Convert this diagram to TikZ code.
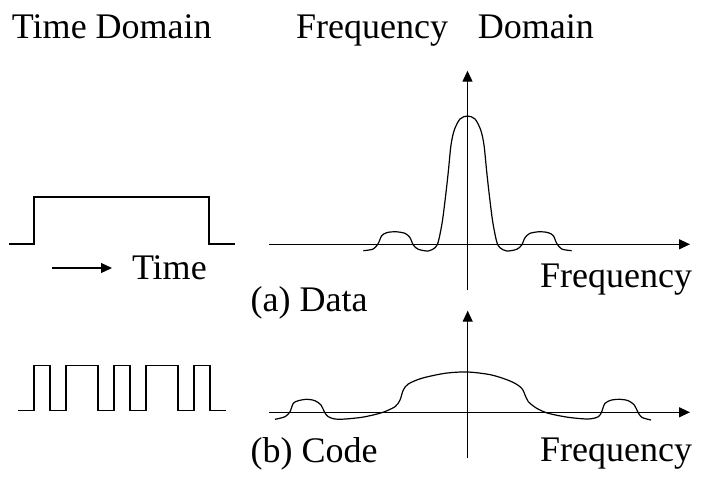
\documentclass[tikz,border=0pt]{standalone}
\usepackage{fontspec}
\setmainfont{Liberation Serif}
\usetikzlibrary{arrows.meta}

\begin{document}
\begin{tikzpicture}[
		x=1pt, y=-1pt,
		line width=1.2pt,
		every node/.style={inner sep=0pt, anchor=base west, font=\fontsize{36}{40}\selectfont},
		axis/.style={-{Triangle[length=11pt, width=10pt]}}
	]
  \useasboundingbox (0,0) rectangle (707,480);
  % titles
  \node (time_title) at (11.4,38) {Time Domain};
  \node (freq_title) at (295.6,38) {Frequency\hspace{29.8pt}Domain};
  % (a) data
  \draw (9,244) -| (34,197) -| (209,244) -- (235,244);
  \coordinate (t_start) at (52,268);
  \coordinate (t_end) at (112,268);
  \draw[axis] (t_start) -- (t_end);
  \node (time_label) at (131.4,279) {Time};
  \coordinate (a_left) at (269,244.3);
  \coordinate (a_right) at (690,244.3);
  \coordinate (a_bottom) at (467.5,290);
  \coordinate (a_top) at (467.5,70.7);
  \draw[axis] (a_left) -- (a_right);
  \draw[axis] (a_bottom) -- (a_top);
  \draw plot[smooth, tension=0.5] coordinates {(363.3,250.7) (373.3,249) (378.3,243.3) (381.7,235.7) (386.7,232.7) (395,231.7) (405,233.3) (410,237.7) (413.3,245) (418.3,249.3) (428.3,251) (435,247.7) (438.3,241.7) (442.3,221.7) (445.7,195) (448.3,171.7) (451,145) (454.3,130) (460,119) (467.5,116)
    (475,119) (480.7,130) (484,145) (486.7,171.7) (489.3,195) (492.7,221.7) (496.7,241.7) (500,247.7) (506.7,251) (516.7,249.3) (521.7,245) (525,237.7) (530,233.3) (540,231.7) (548.3,232.7) (553.3,235.7) (556.7,243.3) (561.7,249) (571.7,250.7)};
  \node (a_freq) at (539.6,287) {Frequency};
  \node (a_caption) at (250,311) {(a) Data};
  % (b) code
  \draw (18,410.7) -| (34,365.7) -| (50,410.7) -| (66,365.7) -| (98,410.7) -| (114,365.7) -| (130,410.7) -| (146,365.7) -| (178,410.7) -| (194,365.7) -| (210,410.7) -- (226,410.7);
  \coordinate (b_left) at (269,412.3);
  \coordinate (b_right) at (690,412.3);
  \coordinate (b_bottom) at (467.7,458);
  \coordinate (b_top) at (467.7,310.7);
  \draw[axis] (b_left) -- (b_right);
  \draw[axis] (b_bottom) -- (b_top);
  \draw plot[smooth, tension=0.5] coordinates {(275,419.3) (285,416.7) (290,411.7) (293.3,403.3) (298.3,400.7) (306.7,399.3) (315,400.7) (321,405) (324.3,411.7) (328.3,416.7) (338.3,419.3) (361.7,417.3) (381.7,412.7) (395,406.7) (400,400) (403.3,390) (408.3,384) (421.7,378.3) (445,373.3) (467.5,372)
    (491.7,375) (511.7,381.7) (521.7,388.3) (525.7,396.7) (528.3,401.7) (536.7,408.3) (548.3,413.3) (568.3,417.3) (588.3,419) (598.3,416.7) (601.7,411.7) (605,403.3) (611.7,400) (620,399.3) (628.3,400.7) (634.3,405) (637.7,411.7) (641.7,417.3) (651,420)};
  \node (b_freq) at (539.6,461.7) {Frequency};
  \node (b_caption) at (250,462.7) {(b) Code};
\end{tikzpicture}
\end{document}
